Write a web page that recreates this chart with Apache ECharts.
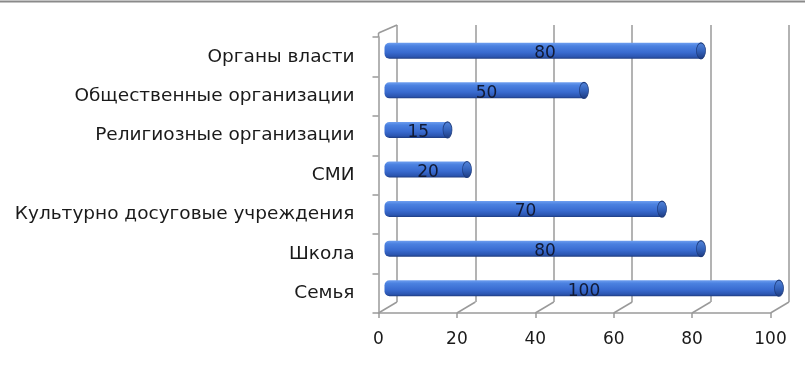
<!DOCTYPE html>
<html><head><meta charset="utf-8">
<script src="https://cdn.jsdelivr.net/npm/echarts@6/dist/echarts.min.js"></script>
<style>html,body{margin:0;padding:0;background:#fff}#c{width:805px;height:374px}</style>
</head><body><div id="c"></div>
<script>
const categories = ['Органы власти','Общественные организации','Религиозные организации','СМИ','Культурно досуговые учреждения','Школа','Семья'];
const values = [80, 50, 15, 20, 70, 80, 100];
const xTicks = [0, 20, 40, 60, 80, 100];

const DX = 18.5, DY = -11, TOP_DY = -8;
const font = 'DejaVu Sans';
const gridLine = '#9a9a9a';
const chart = echarts.init(document.getElementById('c'), null, {renderer: 'canvas'});

function renderFrame(params, api) {
  const v = api.value(0);
  const cs = params.coordSys;
  const x = api.coord([v, 0])[0];
  const bottom = cs.y + cs.height;
  const ls = {stroke: gridLine, lineWidth: 1.5};
  const children = [
    {type: 'line', shape: {x1: x, y1: bottom, x2: x + DX, y2: bottom + DY}, style: ls}
  ];
  if (v === xTicks[0]) {
    children.push({type: 'line', shape: {x1: x, y1: cs.y - 4, x2: x, y2: cs.y}, style: ls});
    children.push({type: 'line', shape: {x1: x, y1: cs.y - 4, x2: x + DX, y2: cs.y - 4 + TOP_DY}, style: ls});
  }
  return {type: 'group', children};
}

function renderBar(params, api) {
  const v = api.value(0), i = api.value(1);
  const p1 = api.coord([v, i]), p0 = api.coord([0, i]);
  const h = 16, cy = p1[1], top = cy - h / 2;
  const rx = 4.5, sx = rx / (h / 2);
  const grad = new echarts.graphic.LinearGradient(0, 0, 0, 1, [
    {offset: 0, color: '#6d9ef0'}, {offset: 0.2, color: '#4b81e0'},
    {offset: 0.6, color: '#396bd0'}, {offset: 0.88, color: '#2b55b0'}, {offset: 1, color: '#1e3c80'}]);
  const capGrad = new echarts.graphic.LinearGradient(0, 0, 0, 1, [
    {offset: 0, color: '#5587dc'}, {offset: 0.5, color: '#3463bc'}, {offset: 1, color: '#1d3a80'}]);
  return {type: 'group', children: [
    {type: 'rect', shape: {x: p0[0] - rx, y: top, width: p1[0] - p0[0] + rx, height: h, r: [5, 0, 0, 5]}, style: {fill: grad}},
    {type: 'circle', x: p1[0], y: cy, scaleX: sx, shape: {cx: 0, cy: 0, r: h / 2}, style: {fill: capGrad, stroke: '#1d3a7a', lineWidth: 1.2, strokeNoScale: true}},
    {type: 'text', x: (p0[0] + p1[0]) / 2, y: cy + 3, style: {text: String(v), fill: '#111a35', font: '17px "DejaVu Sans"', align: 'center', verticalAlign: 'middle'}}
  ]};
}

chart.setOption({
  animation: false,
  backgroundColor: '#fff',
  graphic: [{type: 'line', shape: {x1: 0, y1: 1.5, x2: 805, y2: 1.5}, style: {stroke: '#8a8a8a', lineWidth: 2}}],
  grid: [
    {left: 397, top: 25, width: 392, height: 277},
    {left: 378.5, top: 37, width: 392, height: 276},
    {left: 389, top: 31, width: 390, height: 277}
  ],
  xAxis: [
    {gridIndex: 0, type: 'value', min: 0, max: 100, interval: 20, axisLine: {show: false}, axisTick: {show: false}, axisLabel: {show: false},
      splitLine: {show: true, lineStyle: {color: gridLine, width: 1.5}}},
    {gridIndex: 1, type: 'value', min: 0, max: 100, interval: 20,
      axisLine: {show: true, lineStyle: {color: gridLine, width: 1.5}},
      axisTick: {show: true, length: 5, lineStyle: {color: gridLine, width: 1.5}},
      axisLabel: {color: '#1a1a1a', fontFamily: font, fontSize: 17, margin: 18, formatter: v => xTicks.includes(v) ? String(v) : ''},
      splitLine: {show: false}},
    {gridIndex: 2, type: 'value', min: 0, max: 100, show: false}
  ],
  yAxis: [
    {gridIndex: 0, type: 'value', show: false},
    {gridIndex: 1, type: 'category', data: categories, inverse: true,
      axisLine: {show: true, lineStyle: {color: gridLine, width: 1.5}},
      axisTick: {show: true, length: 6, lineStyle: {color: gridLine, width: 1.5}},
      axisLabel: {color: '#1a1a1a', fontFamily: font, fontSize: 18.5, margin: 24}},
    {gridIndex: 2, type: 'category', data: categories, inverse: true, show: false}
  ],
  series: [
    {type: 'custom', xAxisIndex: 1, yAxisIndex: 1, data: xTicks.map(v => [v]), renderItem: renderFrame, silent: true},
    {type: 'custom', xAxisIndex: 2, yAxisIndex: 2, data: values.map((v, i) => [v, i]), encode: {x: 0, y: 1}, renderItem: renderBar}
  ]
});
</script></body></html>
